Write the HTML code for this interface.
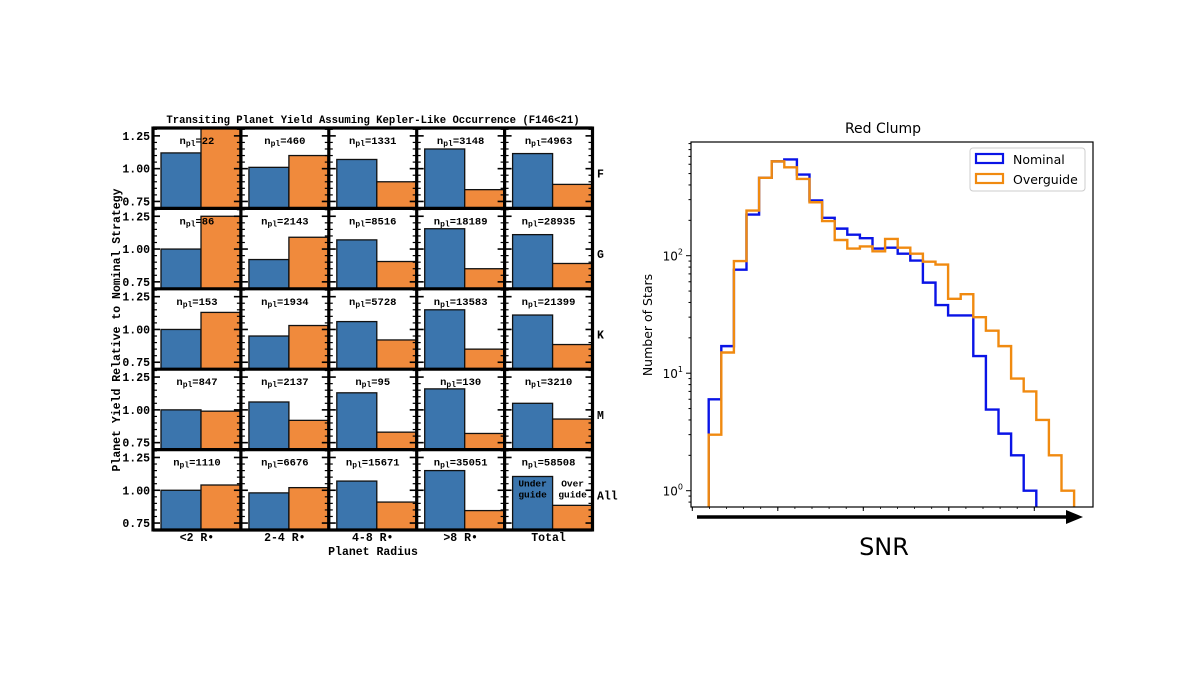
<!DOCTYPE html>
<html><head><meta charset="utf-8">
<style>
html,body{margin:0;padding:0;background:#fff;}
svg{display:block;}
.mono{font-family:"Liberation Mono",monospace;font-weight:bold;}
.sans{font-family:"DejaVu Sans","Liberation Sans",sans-serif;}
</style></head>
<body>
<svg id="fig" width="1200" height="676" viewBox="0 0 1200 676" xmlns="http://www.w3.org/2000/svg">
<g id="left"></g>
<g id="right"></g>
</svg>
<script>
// ---------- Left chart data ----------
const rowLabels = ["F","G","K","M","All"];
const colLabels = ["<2 R\u2022","2-4 R\u2022","4-8 R\u2022",">8 R\u2022","Total"];
const npl = [
 ["22","460","1331","3148","4963"],
 ["86","2143","8516","18189","28935"],
 ["153","1934","5728","13583","21399"],
 ["847","2137","95","130","3210"],
 ["1110","6676","15671","35051","58508"]];
const underVals = [
 [1.12,1.01,1.07,1.15,1.115],
 [1.00,0.92,1.07,1.155,1.11],
 [1.00,0.95,1.06,1.15,1.11],
 [1.00,1.06,1.13,1.16,1.05],
 [1.00,0.98,1.07,1.15,1.105]];
const overVals = [
 [1.40,1.10,0.90,0.84,0.88],
 [1.25,1.09,0.905,0.85,0.89],
 [1.13,1.03,0.92,0.85,0.885],
 [0.99,0.92,0.83,0.82,0.93],
 [1.04,1.02,0.91,0.845,0.885]];
const yTicks = [0.75,1.00,1.25];
const yTickLabels = ["0.75","1.00","1.25"];

// ---------- Right chart data ----------
const nominalCounts = [6,17,76,224,460,635,660,490,295,210,170,151,141,115,117,104,91,59,38,31,31,14,4.9,3.06,2,1];
const overguideCounts = [3,15,90,242,460,635,565,450,285,197,136,115,120,109,139,117,104,89,84,43,47,30,23,17,9,7,4,2,1];
const logTicks = [0,1,2];
const seriesNames = ["Nominal","Overguide"];

const NS="http://www.w3.org/2000/svg";
function mk(parent,tag,attrs,text){
  const e=document.createElementNS(NS,tag);
  for(const k in attrs) e.setAttribute(k,attrs[k]);
  if(text!==undefined) e.textContent=text;
  parent.appendChild(e);return e;
}
// ===== LEFT =====
const L=document.getElementById('left');
const gx0=153, colW=87.9, gy0=128, rowH=80.4;
const vmin=0.697, vmax=1.31;
function ly(r,v){return gy0+r*rowH+(vmax-v)/(vmax-vmin)*rowH;}
function lx(c){return gx0+c*colW;}
let t=mk(L,'text',{x:373,y:123,'text-anchor':'middle','font-size':'10.6',class:'mono'},'Transiting Planet Yield Assuming Kepler-Like Occurrence (F146<21)');


for(let r=0;r<5;r++){
  for(let c=0;c<5;c++){
    const g=mk(L,'g',{});
    
    
    const cp='cp'+r+'_'+c;
    const cl=mk(g,'clipPath',{id:cp});
    mk(cl,'rect',{x:lx(c),y:gy0+r*rowH,width:colW,height:rowH});
    const bb=ly(r,vmin);
    const ub=underVals[r][c], ob=overVals[r][c];
    let b1=mk(g,'rect',{x:lx(c)+8,y:ly(r,ub),width:40,height:bb-ly(r,ub),fill:'#3b75ad',stroke:'#111','stroke-width':1.3,'clip-path':'url(#'+cp+')'});
    
    
    let b2=mk(g,'rect',{x:lx(c)+48,y:ly(r,ob),width:39,height:bb-ly(r,ob),fill:'#f08a3c',stroke:'#111','stroke-width':1.3,'clip-path':'url(#'+cp+')'});
    
    
    for(let v=0.70;v<=1.3001;v+=0.05){
      const major=yTicks.some(q=>Math.abs(q-v)<0.001);
      const len=major?7:4, yy=ly(r,v);
      mk(g,'line',{x1:lx(c),x2:lx(c)+len,y1:yy,y2:yy,stroke:'#000','stroke-width':major?1.6:1.2});
      mk(g,'line',{x1:lx(c+1),x2:lx(c+1)-len,y1:yy,y2:yy,stroke:'#000','stroke-width':major?1.6:1.2});
    }
    const tx=mk(g,'text',{x:lx(c)+colW/2,y:gy0+r*rowH+16,'text-anchor':'middle','font-size':'10.5',class:'mono'});
    
    
    mk(tx,'tspan',{},'n');
    mk(tx,'tspan',{'font-size':'8',dy:'2'},'pl');
    mk(tx,'tspan',{dy:'-2'},'='+npl[r][c]);
    if(r===4&&c===4){
      const a=mk(g,'text',{x:lx(c)+28,y:ly(r,1.0)-4,'text-anchor':'middle','font-size':'9.5',fill:'#000',class:'mono'},'Under');
      
      mk(g,'text',{x:lx(c)+28,y:ly(r,1.0)+7,'text-anchor':'middle','font-size':'9.5',class:'mono'},'guide');
      const o=mk(g,'text',{x:lx(c)+68,y:ly(r,1.0)-4,'text-anchor':'middle','font-size':'9.5',class:'mono'},'Over');
      
      mk(g,'text',{x:lx(c)+68,y:ly(r,1.0)+7,'text-anchor':'middle','font-size':'9.5',class:'mono'},'guide');
    }
  }
  for(let i=0;i<yTicks.length;i++){
    const tl=mk(L,'text',{x:150,y:ly(r,yTicks[i])+4,'text-anchor':'end','font-size':'11.5',class:'mono'},yTickLabels[i]);
    
    
  }
  const rl=mk(L,'text',{x:597,y:ly(r,1.0)+9,'font-size':'11.5',class:'mono'},rowLabels[r]);
  
  
}
for(let c=0;c<=5;c++) mk(L,'line',{x1:lx(c),x2:lx(c),y1:gy0-1.5,y2:gy0+5*rowH+1.5,stroke:'#000','stroke-width':3.2});
for(let r=0;r<=5;r++) mk(L,'line',{x1:gx0,x2:lx(5),y1:gy0+r*rowH,y2:gy0+r*rowH,stroke:'#000','stroke-width':3.2});
for(let c=0;c<5;c++){
  const cl=mk(L,'text',{x:lx(c)+colW/2,y:541,'text-anchor':'middle','font-size':'11.5',class:'mono'},colLabels[c]);
  
  
}
t=mk(L,'text',{x:373,y:555,'text-anchor':'middle','font-size':'11.5',class:'mono'},'Planet Radius');


t=mk(L,'text',{x:0,y:0,'text-anchor':'middle','font-size':'11.5',class:'mono',transform:'translate(120,330) rotate(-90)'},'Planet Yield Relative to Nominal Strategy');



// ===== RIGHT =====
const R=document.getElementById('right');
const ax0=691, ax1=1093, ay0=142, ay1=507;
const binX0=708.7, binW=12.6;
const yOne=490.7, decade=117.5;
function ry(v){return yOne-Math.log10(v)*decade;}
function rx(i){return binX0+i*binW;}
t=mk(R,'text',{x:883,y:133,'text-anchor':'middle','font-size':'14',class:'sans'},'Red Clump');


const cr=mk(R,'clipPath',{id:'rclip'});
mk(cr,'rect',{x:ax0,y:ay0,width:ax1-ax0,height:ay1-ay0});
function stepPath(arr){
  let d='M'+rx(0)+','+(ay1+2);
  for(let i=0;i<arr.length;i++){d+=' L'+rx(i)+','+ry(arr[i])+' L'+rx(i+1)+','+ry(arr[i]);}
  d+=' L'+rx(arr.length)+','+(ay1+2);
  return d;
}
let p=mk(R,'path',{d:stepPath(nominalCounts),fill:'none',stroke:'#0a14e6','stroke-width':2.4,'clip-path':'url(#rclip)'});


p=mk(R,'path',{d:stepPath(overguideCounts),fill:'none',stroke:'#f08a10','stroke-width':2.4,'clip-path':'url(#rclip)'});


mk(R,'rect',{x:ax0,y:ay0,width:ax1-ax0,height:ay1-ay0,fill:'none',stroke:'#000','stroke-width':1.2});
for(let d=-1;d<=2;d++){
  for(let m=1;m<10;m++){
    const v=Math.pow(10,d)*m, yy=ry(v);
    if(yy<ay0||yy>ay1) continue;
    mk(R,'line',{x1:ax0,x2:ax0-(m===1?5:2.5),y1:yy,y2:yy,stroke:'#000','stroke-width':1});
  }
}
for(const k of logTicks){
  const tl=mk(R,'text',{x:ax0-8,y:ry(Math.pow(10,k))+5,'text-anchor':'end','font-size':'12',class:'sans'});
  
  
  mk(tl,'tspan',{},'10');
  mk(tl,'tspan',{'font-size':'8',dy:'-6'},String(k));
}
for(let i=0;i<5;i++){const xx=692.3+i*85.5;mk(R,'line',{x1:xx,x2:xx,y1:ay1,y2:ay1+4,stroke:'#000','stroke-width':1});}
for(let i=0;i<=20;i++){const xx=692.3+i*17.1;mk(R,'line',{x1:xx,x2:xx,y1:ay1,y2:ay1+2,stroke:'#000','stroke-width':0.8});}
t=mk(R,'text',{x:0,y:0,'text-anchor':'middle','font-size':'12.5',class:'sans',transform:'translate(652,325) rotate(-90)'},'Number of Stars');


const ar=mk(R,'g',{});


mk(ar,'line',{x1:697,x2:1068,y1:517,y2:517,stroke:'#000','stroke-width':3.5});
mk(ar,'polygon',{points:'1066,510 1083,517 1066,524',fill:'#000'});
t=mk(R,'text',{x:884,y:555,'text-anchor':'middle','font-size':'24',class:'sans'},'SNR');


const lg=mk(R,'g',{});


mk(lg,'rect',{x:970,y:148,width:115,height:43,rx:3,fill:'#fff',stroke:'#ccc','stroke-width':1});
const lc=['#0a14e6','#f08a10'];
for(let i=0;i<2;i++){
  const e=mk(lg,'g',{});
  
  
  mk(e,'rect',{x:976,y:154+i*20,width:27,height:9,fill:'none',stroke:lc[i],'stroke-width':2.2});
  mk(e,'text',{x:1013,y:164+i*20,'font-size':'12.5',class:'sans'},seriesNames[i]);
}
</script>
</body></html>
